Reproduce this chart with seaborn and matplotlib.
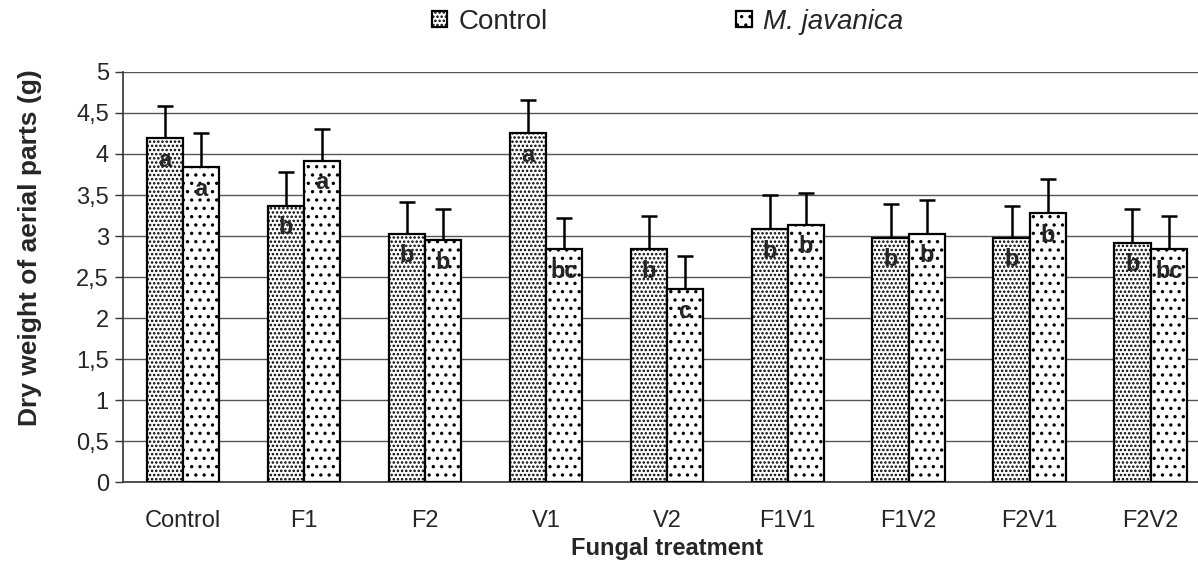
"""Dry weight of aerial parts by fungal treatment"""

import matplotlib
matplotlib.use("Agg")
import matplotlib.pyplot as plt
import pandas as pd
import seaborn as sb
from matplotlib.ticker import FixedLocator, FuncFormatter

# Data
treatments = ["Control", "F1", "F2", "V1", "V2", "F1V1", "F1V2", "F2V1", "F2V2"]
control_mean = [4.19, 3.37, 3.03, 4.25, 2.84, 3.08, 2.98, 2.98, 2.92]
control_err = [0.39, 0.41, 0.39, 0.41, 0.41, 0.42, 0.41, 0.38, 0.41]
control_letters = ["a", "b", "b", "a", "b", "b", "b", "b", "b"]
javanica_mean = [3.84, 3.92, 2.95, 2.84, 2.35, 3.14, 3.03, 3.28, 2.84]
javanica_err = [0.41, 0.38, 0.38, 0.38, 0.41, 0.38, 0.41, 0.41, 0.41]
javanica_letters = ["a", "a", "b", "bc", "c", "b", "b", "b", "bc"]
groups = ["Control", "M. javanica"]

df = pd.concat([
    pd.DataFrame({"treatment": treatments, "group": groups[0], "weight": control_mean}),
    pd.DataFrame({"treatment": treatments, "group": groups[1], "weight": javanica_mean}),
])

sb.set_style("white")
plt.rcParams["font.family"] = ["Liberation Sans", "DejaVu Sans"]
plt.rcParams["hatch.linewidth"] = 1.2
plt.rcParams["hatch.color"] = "black"

fig = plt.figure(figsize=(11.98, 5.62), dpi=100)
ax = fig.add_axes([0.1024, 0.1423, 0.9085, 0.7296])

sb.barplot(data=df, x="treatment", y="weight", hue="group", order=treatments,
           hue_order=groups, palette=["white", "white"], width=0.6, gap=0,
           edgecolor="black", linewidth=1.6, errorbar=None, ax=ax, zorder=3)

hatches = ["....", ".."]
errs = [control_err, javanica_err]
letters = [control_letters, javanica_letters]
means = [control_mean, javanica_mean]
bar_containers = list(ax.containers)
for gi, container in enumerate(bar_containers):
    xs = []
    for bar in container:
        bar.set_hatch(hatches[gi])
        xs.append(bar.get_x() + bar.get_width() / 2)
    ax.errorbar(xs, means[gi], yerr=[[0] * len(xs), errs[gi]], fmt="none",
                ecolor="black", elinewidth=1.8, capsize=6, capthick=1.8, zorder=2)
    for x, m, lab in zip(xs, means[gi], letters[gi]):
        ax.text(x, m - 0.27, lab, ha="center", va="center", fontsize=17,
                fontweight="bold", zorder=5)

ax.set_ylim(0, 5)
ax.set_xlim(-0.5, len(treatments) - 0.5)
ax.yaxis.set_major_locator(FixedLocator([i * 0.5 for i in range(11)]))
ax.yaxis.set_major_formatter(FuncFormatter(lambda v, p: f"{v:g}".replace(".", ",")))
ax.grid(axis="y", color="#555555", linewidth=1.0, zorder=0)
ax.set_axisbelow(True)

ax.xaxis.set_minor_locator(FixedLocator([i - 0.5 for i in range(len(treatments) + 1)]))
ax.tick_params(axis="x", which="major", length=0, pad=20, labelsize=17)
ax.tick_params(axis="x", which="minor", length=6, width=1, color="#333333", direction="out")
ax.tick_params(axis="y", which="major", length=6, width=1, color="#333333",
               direction="out", labelsize=17, pad=4, left=True)

for side in ["top", "right"]:
    ax.spines[side].set_visible(False)
for side in ["left", "bottom"]:
    ax.spines[side].set_color("#333333")
    ax.spines[side].set_linewidth(1.2)

ax.set_xlabel("Fungal treatment", fontsize=17, fontweight="bold")
ax.xaxis.set_label_coords(0.5, -0.134)
ax.set_ylabel("Dry weight of aerial parts (g)", fontsize=19, fontweight="bold")
ax.yaxis.set_label_coords(-0.074, 0.571)

legend_handles, legend_labels = ax.get_legend_handles_labels()
ax.legend_.remove()
leg = fig.legend(handles=legend_handles, labels=["Control", "M. javanica"], loc="center",
                 bbox_to_anchor=(0.557, 0.961), ncol=2, frameon=False, fontsize=20,
                 handlelength=0.55, handleheight=0.55, handletextpad=0.4, columnspacing=6.8)
leg.get_texts()[1].set_fontstyle("italic")
for h, hatch in zip(leg.legend_handles, hatches):
    h.set_hatch(hatch)
    h.set_edgecolor("black")
    h.set_linewidth(1.6)

fig.savefig("out.png", dpi=100)
